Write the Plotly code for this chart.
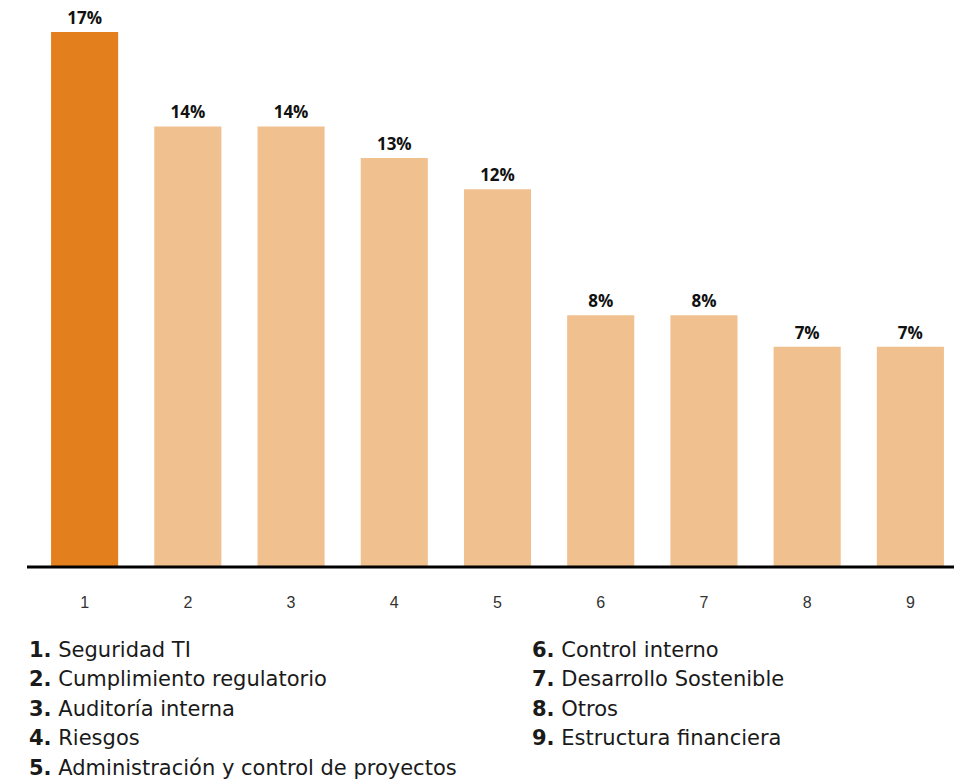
import plotly.graph_objects as go

# data
categories = ["1", "2", "3", "4", "5", "6", "7", "8", "9"]
values = [17, 14, 14, 13, 12, 8, 8, 7, 7]
labels = ["17%", "14%", "14%", "13%", "12%", "8%", "8%", "7%", "7%"]
legend_left = ["Seguridad TI", "Cumplimiento regulatorio", "Auditoría interna",
               "Riesgos", "Administración y control de proyectos"]
legend_right = ["Control interno", "Desarrollo Sostenible", "Otros",
                "Estructura financiera"]

# style
color_main = "#E47F1E"
color_rest = "#F0C08F"
off = 8  # page body margin
W, H = 966, 775
m_l, m_r, m_t, m_b = 33 - off, 12, 0, H - (567 - off)
plot_w = W - m_l - m_r
plot_h = H - m_t - m_b
body_font = "'DejaVu Sans', sans-serif"

fig = go.Figure()
fig.add_trace(go.Bar(
    x=categories,
    y=values,
    text=labels,
    textposition="outside",
    textfont=dict(family="'Open Sans', sans-serif", size=17, color="#111111", weight="bold"),
    marker=dict(color=[color_main] + [color_rest] * (len(values) - 1), line_width=0),
    cliponaxis=False,
    hoverinfo="skip",
))


def px_x(x):
    return (x - off - m_l) / plot_w


def px_y(y):
    return (m_t + plot_h - (y - off)) / plot_h


# baseline
fig.add_shape(type="line", xref="paper", yref="paper",
              x0=px_x(27), x1=px_x(954), y0=0, y1=0,
              line=dict(color="black", width=3))

# legend-like list under the chart
annotations = []
for i, name in enumerate(legend_left):
    annotations.append(dict(
        text=f"<b>{i + 1}.</b> {name}", x=px_x(27), y=px_y(649.5 + i * 29.5),
        xref="paper", yref="paper", xanchor="left", yanchor="middle",
        showarrow=False, font=dict(family=body_font, size=21, color="#1a1a1a")))
for i, name in enumerate(legend_right):
    annotations.append(dict(
        text=f"<b>{i + 6}.</b> {name}", x=px_x(530), y=px_y(649.5 + i * 29.5),
        xref="paper", yref="paper", xanchor="left", yanchor="middle",
        showarrow=False, font=dict(family=body_font, size=21, color="#1a1a1a")))

fig.update_layout(
    width=W, height=H,
    margin=dict(l=m_l, r=m_r, t=m_t, b=m_b),
    paper_bgcolor="white", plot_bgcolor="white",
    bargap=0.35,
    showlegend=False,
    annotations=annotations,
    xaxis=dict(showline=False, showgrid=False, zeroline=False, ticks="",
               tickfont=dict(family="'Liberation Sans', Arial, sans-serif", size=16, color="#333333"),
               ticklabelstandoff=24),
    yaxis=dict(visible=False, range=[0, plot_h / 31.47]),
)

fig.write_html("out.html")
